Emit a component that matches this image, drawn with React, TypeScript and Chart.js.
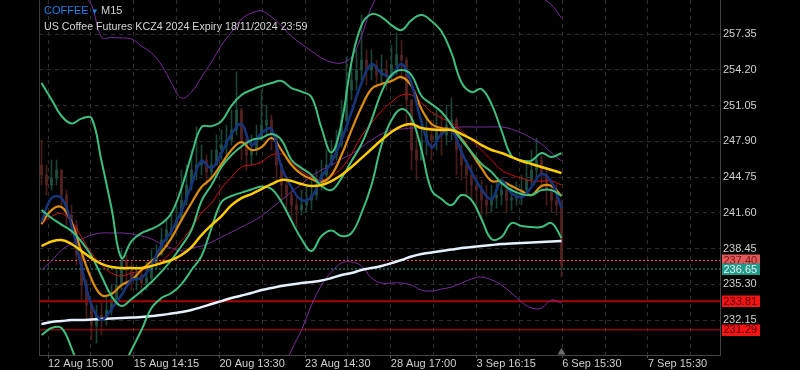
import React, { useEffect, useRef } from 'react';
import { Chart, registerables } from 'chart.js';

Chart.register(...registerables);

// ---------- axis ----------
const Y_TICKS = [232.15, 235.3, 238.45, 241.6, 244.75, 247.9, 251.05, 254.2, 257.35];
const Y_MIN = 229.07;
const Y_MAX = 260.35;
const X_TICK_LABELS = ['12 Aug 15:00', '15 Aug 14:15', '20 Aug 13:30', '23 Aug 14:30', '28 Aug 17:00', '3 Sep 16:15', '6 Sep 15:30', '7 Sep 15:30'];
const X_MIN = -0.5;
const X_MAX = 135.7;
const X_TICK_START = 1.3;
const X_TICK_STEP = 8.57;
const X_TICK_COUNT = 16;
const LINE_STEP = 2; // one indicator sample every 2 bars

// ---------- candles (M15, aggregated) ----------
const FIRST_OPEN = 245.81;
const CLOSE = [
  244.93, 244.05, 244.66, 245.37, 243.17, 241.4, 240.52, 237.88, 235.23, 233.47,
  231.71, 232.59, 232.15, 233.03, 233.91, 235.23, 237.44, 236.56, 235.68, 236.12,
  235.41, 235.85, 237.0, 237.88, 239.2, 240.08, 240.26, 240.96, 242.72, 244.05,
  245.37, 245.81, 246.25, 245.19, 245.81, 247.13, 247.57, 248.01, 248.89, 250.65,
  248.01, 246.69, 247.13, 248.01, 249.33, 249.77, 248.45, 245.81, 244.05, 243.17,
  242.28, 241.84, 242.28, 242.72, 243.17, 244.05, 244.93, 245.81, 246.69, 247.57,
  249.77, 252.42, 253.3, 254.18, 255.06, 254.18, 254.62, 253.74, 254.18, 253.74,
  254.62, 255.5, 255.06, 251.54, 247.13, 246.25, 248.01, 248.45, 248.01, 248.89,
  248.45, 249.33, 249.77, 247.13, 245.81, 244.93, 244.05, 243.61, 242.72, 242.28,
  242.9, 243.17, 243.61, 242.72, 242.9, 243.17, 243.61, 244.49, 245.37, 246.25,
  244.93, 243.61, 242.72, 242.28, 237.0,
];
const HIGH = [
  248.01, 245.81, 246.25, 246.25, 245.37, 243.61, 242.28, 240.96, 238.32, 235.68,
  233.91, 233.47, 233.91, 234.35, 235.23, 236.56, 238.32, 237.88, 237.26, 237.0,
  236.56, 237.26, 238.32, 238.76, 240.26, 240.96, 241.4, 242.28, 245.37, 245.81,
  247.13, 249.16, 247.57, 246.69, 247.13, 248.45, 248.89, 249.33, 250.65, 254.0,
  250.8, 248.45, 248.45, 249.33, 252.42, 251.09, 250.21, 248.6, 245.81, 244.49,
  243.61, 243.17, 243.61, 244.05, 244.49, 245.37, 246.25, 247.13, 248.01, 248.89,
  251.54, 255.32, 254.62, 255.94, 259.02, 255.94, 255.94, 255.06, 255.5, 255.06,
  256.38, 257.44, 256.82, 255.3, 251.54, 248.89, 249.77, 250.21, 249.77, 250.65,
  250.21, 251.09, 251.71, 250.0, 247.57, 246.25, 245.81, 244.93, 244.49, 244.05,
  244.05, 244.31, 244.66, 244.05, 244.05, 244.31, 244.93, 246.25, 247.13, 248.19,
  246.69, 245.37, 244.49, 244.05, 242.72,
];
const LOW = [
  244.05, 243.17, 243.61, 244.05, 242.28, 240.52, 239.64, 237.0, 233.91, 232.15,
  230.39, 230.12, 230.83, 231.71, 232.59, 233.91, 234.79, 235.23, 234.79, 234.79,
  234.35, 234.79, 235.68, 236.73, 237.88, 238.76, 239.2, 240.08, 240.8, 242.28,
  243.61, 244.49, 244.93, 244.05, 244.66, 245.81, 246.25, 246.69, 247.57, 248.45,
  246.25, 245.37, 245.81, 246.69, 248.01, 248.45, 247.13, 244.49, 242.72, 241.84,
  240.96, 240.35, 241.4, 241.67, 241.84, 242.72, 243.61, 244.49, 245.81, 246.25,
  247.4, 249.6, 251.54, 252.42, 253.3, 252.86, 253.3, 252.59, 252.86, 252.42,
  253.3, 253.74, 253.3, 248.89, 245.37, 244.49, 246.25, 246.69, 246.25, 247.13,
  246.69, 247.57, 248.01, 244.93, 244.49, 243.17, 242.72, 241.84, 240.79, 241.4,
  241.67, 242.02, 242.28, 241.67, 241.84, 242.28, 242.28, 243.17, 244.05, 244.49,
  243.61, 242.28, 241.67, 241.4, 235.94,
];

// ---------- indicators (one value every 2 bars) ----------
const BB_UPPER = [
  253.03, 251.58, 250.13, 249.46, 249.9, 249.95, 246.16, 242.02, 237.61, 239.11,
  239.82, 240.17, 240.65, 241.58, 243.78, 246.69, 249.16, 249.24, 249.68, 251.05,
  251.98, 252.42, 252.77, 253.03, 253.21, 252.59, 252.28, 251.8, 249.07, 246.91,
  249.51, 254.88, 258.14, 259.11, 258.85, 258.14, 257.7, 258.58, 259.02, 258.5,
  257.57, 255.68, 253.08, 252.24, 252.5, 251.18, 248.85, 246.6, 246.2, 246.2,
  246.86, 246.51, 246.86,
];
const BB_MIDDLE = [
  241.84, 241.14, 240.56, 239.99, 239.07, 237.79, 236.03, 234.27, 233.38, 234.0,
  234.71, 235.5, 236.42, 237.44, 238.67, 240.08, 242.64, 244.05, 245.63, 246.69,
  247.44, 248.01, 248.19, 248.54, 248.01, 246.25, 245.54, 244.93, 243.96, 243.6,
  244.66, 246.16, 247.66, 249.77, 252.24, 253.74, 254.18, 253.74, 251.89, 251.18,
  250.48, 249.33, 248.01, 246.95, 245.9, 245.19, 244.22, 243.6, 243.25, 243.16,
  243.6, 243.6, 243.08,
];
const BB_LOWER = [
  230.83, 231.45, 231.45, 229.68, 227.3, 225.54, 225.1, 225.98, 227.74, 229.51,
  231.27, 233.21, 234.09, 234.53, 235.32, 236.56, 237.79, 240.26, 242.55, 243.08,
  243.38, 243.65, 243.91, 243.69, 242.55, 240.87, 239.29, 238.23, 239.55, 240.04,
  239.55, 239.82, 241.58, 244.05, 247.57, 249.77, 250.74, 249.95, 247.13, 243.6,
  242.81, 242.28, 243.16, 242.72, 241.05, 239.29, 239.46, 240.7, 240.43, 240.34,
  240.34, 240.7, 239.38,
];
const ENV_UPPER = [
  265.63, 264.31, 262.99, 261.93, 260.96, 259.91, 257.09, 257.04, 257.0, 256.91,
  256.29, 255.68, 254.62, 253.03, 251.71, 252.24, 253.56, 254.88, 256.38, 257.53,
  258.67, 259.2, 259.38, 258.85, 258.06, 257.17, 256.47, 255.85, 255.24, 254.88,
  254.8, 255.32, 257.17, 259.73, 261.23, 262.28, 263.17, 263.87, 264.31, 264.58,
  264.58, 264.31, 263.87, 263.34, 262.81, 262.28, 261.84, 261.4, 261.05, 260.79,
  260.52, 259.91, 258.76,
];
const ENV_MIDDLE = [
  236.56, 237.35, 238.32, 238.85, 239.29, 239.64, 239.82, 239.82, 239.82, 239.73,
  239.55, 239.29, 238.85, 238.5, 238.23, 238.5, 238.67, 239.02, 239.46, 239.9,
  240.35, 240.79, 241.31, 242.02, 242.72, 243.43, 244.13, 244.84, 245.37, 245.81,
  246.34, 246.78, 247.39, 248.01, 248.54, 248.89, 248.98, 249.07, 249.07, 249.07,
  249.07, 249.07, 249.16, 249.16, 249.16, 249.16, 249.16, 248.98, 248.63, 248.19,
  247.66, 246.87, 246.16,
];
const ENV_LOWER = [
  207.48, 210.39, 213.65, 215.76, 217.61, 219.37, 222.55, 222.59, 222.64, 222.55,
  222.81, 222.9, 223.08, 223.96, 224.75, 224.75, 223.78, 223.16, 222.55, 222.28,
  222.02, 222.37, 223.25, 225.19, 227.39, 229.51, 231.27, 233.47, 235.23, 236.38,
  237.17, 237.26, 236.91, 235.85, 235.41, 235.41, 235.41, 235.23, 234.79, 234.71,
  234.88, 235.06, 235.41, 235.76, 235.94, 235.68, 235.23, 234.53, 233.74, 233.21,
  233.21, 233.92, 233.65,
];
const MA_YELLOW = [
  238.67, 239.07, 239.2, 238.85, 238.23, 237.61, 237.09, 236.82, 236.73, 236.73,
  236.73, 236.91, 237.17, 237.44, 237.88, 238.58, 239.64, 240.52, 241.31, 242.28,
  242.9, 243.25, 243.69, 244.13, 244.49, 244.4, 244.13, 243.96, 244.05, 244.4,
  244.93, 245.63, 246.42, 247.22, 248.01, 248.72, 249.24, 249.42, 249.07, 248.94,
  248.89, 248.89, 248.54, 248.1, 247.57, 247.13, 246.87, 246.51, 246.16, 245.9,
  245.63, 245.37, 245.1,
];
const MA_RED = [
  240.61, 241.27, 241.54, 240.83, 239.46, 238.05, 237.0, 236.29, 236.03, 236.29,
  236.51, 236.91, 237.35, 238.14, 239.11, 240.26, 241.58, 242.46, 243.78, 244.75,
  245.63, 245.81, 246.07, 246.69, 246.78, 246.07, 245.28, 244.75, 244.49, 244.84,
  245.54, 246.78, 248.36, 249.51, 250.57, 251.36, 251.98, 251.98, 251.27, 250.48,
  249.95, 249.51, 248.8, 248.01, 247.13, 246.25, 245.37, 244.93, 244.66, 244.4,
  244.4, 244.4, 244.05,
];
const MA_ORANGE = [
  240.61, 241.84, 242.11, 240.79, 238.14, 235.76, 234.35, 234.44, 235.23, 235.68,
  236.56, 237.35, 238.14, 239.38, 240.96, 242.46, 243.87, 244.66, 245.9, 247.13,
  247.83, 247.13, 247.39, 248.19, 247.13, 245.81, 245.01, 244.57, 244.31, 244.93,
  246.69, 248.89, 250.92, 252.51, 252.95, 253.21, 253.56, 252.77, 250.74, 249.42,
  249.07, 248.89, 248.1, 246.87, 245.54, 244.4, 244.4, 243.96, 243.52, 243.16,
  243.96, 243.96, 243.08,
];
const MA_BLUE = [
  240.79, 242.9, 242.9, 240.52, 236.82, 233.47, 232.15, 233.12, 234.35, 235.68,
  235.85, 237.0, 238.76, 239.99, 241.76, 244.05, 246.16, 245.54, 246.87, 248.54,
  249.42, 247.57, 248.63, 248.98, 245.63, 243.87, 242.72, 242.99, 244.75, 246.07,
  248.01, 250.48, 253.03, 254.71, 253.91, 253.65, 254.71, 252.95, 249.6, 247.39,
  248.54, 248.89, 246.95, 245.19, 243.69, 242.81, 244.4, 243.34, 242.99, 243.87,
  245.01, 244.31, 242.02,
];
const MA_WHITE = [
  231.8, 231.98, 232.06, 232.15, 232.15, 232.19, 232.24, 232.28, 232.33, 232.37,
  232.41, 232.5, 232.59, 232.72, 232.85, 233.03, 233.29, 233.56, 233.82, 234.09,
  234.31, 234.53, 234.79, 234.97, 235.15, 235.28, 235.41, 235.5, 235.63, 235.85,
  236.12, 236.29, 236.56, 236.73, 236.91, 237.17, 237.44, 237.75, 237.97, 238.1,
  238.23, 238.36, 238.5, 238.58, 238.67, 238.76, 238.85, 238.89, 238.94, 238.98,
  239.02, 239.07, 239.11,
];

// ---------- price levels ----------
const LEVEL_VALUES = [237.4, 236.65, 233.81, 231.29];
const LEVEL_STYLES = [
  { line: '#ff5c5c', dash: [2, 2], width: 1, tagBg: '#e05a5a', tagText: '#7a1212' },
  { line: '#26a69a', dash: [2, 2], width: 1, tagBg: '#21998b', tagText: '#e4f4f1' },
  { line: '#a80000', dash: [] as number[], width: 2, tagBg: '#f51414', tagText: '#4d0000' },
  { line: '#cc0000', dash: [] as number[], width: 1, tagBg: '#f51414', tagText: '#4d0000' },
];

const FONT = '"Liberation Sans", Arial, sans-serif';

export default function App() {
  const ref = useRef<HTMLCanvasElement>(null);

  useEffect(() => {
    document.body.style.margin = '0';
    document.body.style.background = '#000';
    const canvas = ref.current;
    if (!canvas) return;

    const opens = CLOSE.map((c, i) => (i === 0 ? FIRST_OPEN : CLOSE[i - 1]));
    const isUp = CLOSE.map((c, i) => c >= opens[i]);

    const lineDs = (arr: number[], color: string, width: number, order: number) => ({
      type: 'line' as const,
      data: arr.map((v, j) => ({ x: j * LINE_STEP, y: v })),
      borderColor: color,
      borderWidth: width,
      pointRadius: 0,
      tension: 0.4,
      fill: false,
      order,
    });

    const levelDs = LEVEL_VALUES.map((v, i) => ({
      type: 'line' as const,
      data: [
        { x: X_MIN, y: v },
        { x: X_MAX, y: v },
      ],
      borderColor: LEVEL_STYLES[i].line,
      borderWidth: LEVEL_STYLES[i].width,
      borderDash: LEVEL_STYLES[i].dash,
      pointRadius: 0,
      fill: false,
      order: 40,
    }));

    const overlay = {
      id: 'overlay',
      afterDraw(chart: any) {
        const { ctx, chartArea, scales } = chart;
        const y = scales.y;
        const x = scales.x;
        ctx.save();
        // left frame line
        ctx.strokeStyle = '#3c3c3c';
        ctx.lineWidth = 1;
        ctx.beginPath();
        ctx.moveTo(chartArea.left + 0.5, chartArea.top);
        ctx.lineTo(chartArea.left + 0.5, chartArea.bottom);
        ctx.stroke();
        // price tags
        ctx.font = '11px ' + FONT;
        ctx.textBaseline = 'middle';
        ctx.textAlign = 'left';
        LEVEL_VALUES.forEach((v, i) => {
          const st = LEVEL_STYLES[i];
          const py = y.getPixelForValue(v);
          ctx.fillStyle = st.tagBg;
          ctx.fillRect(chartArea.right + 2, Math.round(py) - 5.5, 38, 11.5);
          ctx.fillStyle = st.tagText;
          ctx.fillText(v.toFixed(2), chartArea.right + 3.5, py + 0.5);
        });
        // last bar marker
        const px = x.getPixelForValue(CLOSE.length - 1);
        ctx.fillStyle = '#6e6e6e';
        ctx.beginPath();
        ctx.moveTo(px - 4, chartArea.bottom - 0.5);
        ctx.lineTo(px + 4, chartArea.bottom - 0.5);
        ctx.lineTo(px, chartArea.bottom - 7);
        ctx.closePath();
        ctx.fill();
        ctx.restore();
      },
    };

    const chart = new Chart(canvas, {
      type: 'bar',
      data: {
        datasets: [
          {
            type: 'bar',
            data: CLOSE.map((c, i) => ({ x: i, y: [LOW[i], HIGH[i]] })),
            backgroundColor: isUp.map((u) => (u ? '#1b4538' : '#4a1d1d')),
            barThickness: 1,
            grouped: false,
            borderWidth: 0,
            order: 50,
          } as any,
          {
            type: 'bar',
            data: CLOSE.map((c, i) => ({ x: i, y: [Math.min(opens[i], c), Math.max(opens[i], c)] })),
            backgroundColor: isUp.map((u) => (u ? '#205242' : '#572222')),
            barThickness: 2,
            minBarLength: 1,
            grouped: false,
            borderWidth: 0,
            order: 49,
          } as any,
          ...levelDs,
          lineDs(ENV_UPPER, '#7b2d9e', 1, 30),
          lineDs(ENV_MIDDLE, '#7b2d9e', 1, 30),
          lineDs(ENV_LOWER, '#7b2d9e', 1, 30),
          lineDs(MA_WHITE, '#e6f1ff', 2.5, 25),
          lineDs(MA_RED, '#d11010', 1, 20),
          lineDs(MA_ORANGE, '#dd8c0e', 2.2, 18),
          lineDs(MA_BLUE, '#15367f', 2.5, 16),
          lineDs(BB_UPPER, '#3fbf7f', 2, 14),
          lineDs(BB_MIDDLE, '#3fbf7f', 2, 14),
          lineDs(BB_LOWER, '#3fbf7f', 2, 14),
          lineDs(MA_YELLOW, '#ffcc00', 2.5, 10),
        ] as any,
      },
      options: {
        responsive: false,
        animation: false,
        events: [],
        layout: { padding: { left: 39, right: 0, top: 0, bottom: 0 } },
        plugins: { legend: { display: false }, tooltip: { enabled: false } },
        scales: {
          x: {
            type: 'linear',
            min: X_MIN,
            max: X_MAX,
            offset: false,
            grid: {
              offset: false,
              color: '#2e2e2e',
              lineWidth: 1,
              drawTicks: true,
              tickLength: 3,
              tickColor: (c: any) => (c.index % 2 === 0 ? '#555' : 'rgba(0,0,0,0)'),
            },
            border: { display: true, color: '#444', dash: [4, 4] },
            ticks: {
              autoSkip: false,
              maxRotation: 0,
              align: 'start',
              padding: 0,
              color: '#cfcfcf',
              font: { family: FONT, size: 11, lineHeight: 1 },
              callback: (v: any, i: number) => (i % 2 === 0 ? X_TICK_LABELS[i / 2] ?? '' : ''),
            },
            afterBuildTicks: (s: any) => {
              s.ticks = Array.from({ length: X_TICK_COUNT }, (_, k) => ({ value: X_TICK_START + k * X_TICK_STEP }));
            },
            afterFit: (s: any) => {
              s.height = 15;
              s.paddingLeft = 0;
              s.paddingRight = 0;
            },
          } as any,
          y: {
            type: 'linear',
            position: 'right',
            min: Y_MIN,
            max: Y_MAX,
            grid: { color: '#2e2e2e', lineWidth: 1, drawTicks: false },
            border: { display: true, color: '#444', dash: [4, 4] },
            ticks: {
              padding: 3,
              color: '#cfcfcf',
              font: { family: FONT, size: 11 },
              callback: (v: any) => Number(v).toFixed(2),
            },
            afterBuildTicks: (s: any) => {
              s.ticks = Y_TICKS.map((v) => ({ value: v }));
            },
            afterFit: (s: any) => {
              s.width = 80;
              s.paddingTop = 0;
              s.paddingBottom = 0;
            },
          } as any,
        },
      },
      plugins: [overlay],
    } as any);

    return () => chart.destroy();
  }, []);

  return (
    <div style={{ position: 'relative', width: 800, height: 370, background: '#000', overflow: 'hidden' }}>
      <canvas ref={ref} width={800} height={370} style={{ display: 'block' }} />
      <div
        style={{
          position: 'absolute',
          left: 44,
          top: 3,
          font: '10.7px ' + FONT,
          lineHeight: '14px',
          whiteSpace: 'nowrap',
          pointerEvents: 'none',
        }}
      >
        <div>
          <span style={{ color: '#1f7fe6', fontSize: 11 }}>COFFEE</span>
          <span style={{ color: '#1f7fe6', fontSize: 8 }}> ▼ </span>
          <span style={{ color: '#d0d0d0', fontSize: 11 }}>M15</span>
        </div>
        <div style={{ color: '#d6d6d6' }}>US Coffee Futures KCZ4 2024 Expiry 18/11/2024 23:59</div>
      </div>
    </div>
  );
}
